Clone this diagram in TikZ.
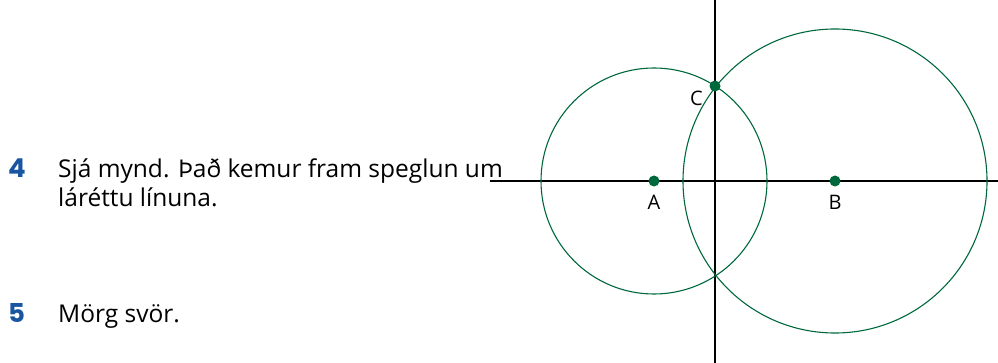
\documentclass[tikz,border=0pt]{standalone}
\usepackage{fontspec}
\setmainfont{Open Sans}
\newfontfamily\numfont{Poppins}
\usepackage{xcolor}
\usepackage{tikz}
\usetikzlibrary{positioning}
\definecolor{circgreen}{RGB}{0,105,60}
\definecolor{numblue}{RGB}{25,85,160}

\begin{document}
\begin{tikzpicture}[
      x=1pt, y=-1pt,
      every node/.style={inner sep=0pt},
      numtxt/.style={anchor=base west, text=numblue, font=\fontsize{26}{30}\numfont\bfseries},
      bodytxt/.style={anchor=base west, font=\fontsize{24.5}{29}\selectfont},
      dotpt/.style={circle, fill=circgreen, minimum size=11pt},
      ptlabel/.style={font=\fontsize{20}{22}\selectfont},
      axisline/.style={black, line width=1.1pt},
      arcline/.style={circgreen, line width=1.1pt}
    ]
      \useasboundingbox (0,0) rectangle (998,363);

      % Answer 4
      \node[numtxt] (n4) at (8,178) {4};
      \node[bodytxt] (t4a) at (58,178) {Sjá mynd. Það kemur fram speglun um};
      \node[bodytxt] (t4b) at (58,207) {láréttu línuna.};

      % Answer 5
      \node[numtxt] (n5) at (8,322) {5};
      \node[bodytxt] (t5) at (58,322) {Mörg svör.};

      % Axes
      \coordinate (hl) at (490,181);
      \coordinate (hr) at (998,181);
      \coordinate (vt) at (715,0);
      \coordinate (vb) at (715,363);
      \draw[axisline] (hl) -- (hr);
      \draw[axisline] (vt) -- (vb);

      % Circles round A and B
      \node[dotpt] (A) at (654,181) {};
      \node[dotpt] (B) at (835,181) {};
      \draw[arcline] (A.center) circle[radius=113pt];
      \draw[arcline] (B.center) circle[radius=152pt];

      % Intersection C
      \node[dotpt] (C) at (715,86) {};

      \node[ptlabel, below=8pt of A] (lA) {A};
      \node[ptlabel, below=8pt of B] (lB) {B};
      \node[ptlabel, below left=1pt and 8pt of C] (lC) {C};
    \end{tikzpicture}
\end{document}
